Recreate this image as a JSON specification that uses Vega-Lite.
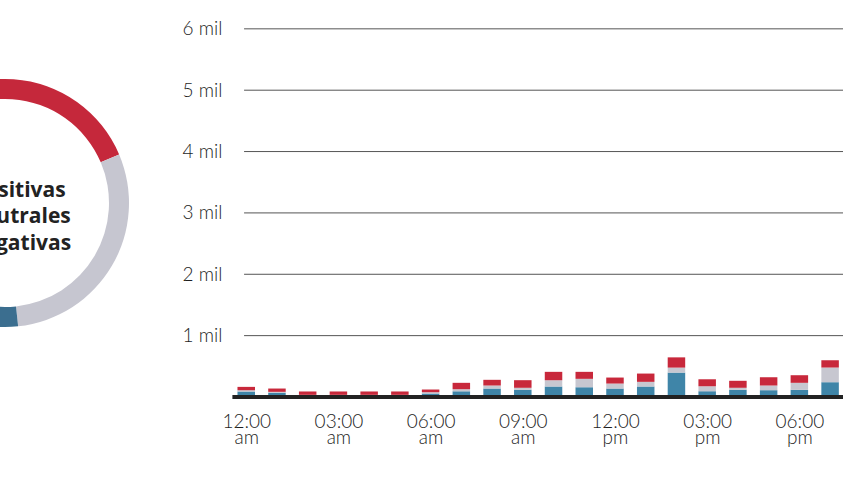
{
  "$schema": "https://vega.github.io/schema/vega-lite/v6.json",
  "width": 848,
  "height": 397,
  "autosize": {"type": "none"},
  "padding": {"left": 0, "top": 0, "right": 0, "bottom": 80},
  "background": "white",
  "config": {"view": {"stroke": null}},
  "datasets": {
    "horas": [
      {"hora": 0, "Positivas": 89, "Neutrales": 21, "Negativas": 55},
      {"hora": 1, "Positivas": 68, "Neutrales": 16, "Negativas": 54},
      {"hora": 2, "Positivas": 30, "Neutrales": 5, "Negativas": 55},
      {"hora": 3, "Positivas": 30, "Neutrales": 5, "Negativas": 55},
      {"hora": 4, "Positivas": 30, "Neutrales": 5, "Negativas": 55},
      {"hora": 5, "Positivas": 30, "Neutrales": 5, "Negativas": 55},
      {"hora": 6, "Positivas": 57, "Neutrales": 21, "Negativas": 44},
      {"hora": 7, "Positivas": 93, "Neutrales": 34, "Negativas": 104},
      {"hora": 8, "Positivas": 138, "Neutrales": 49, "Negativas": 93},
      {"hora": 9, "Positivas": 117, "Neutrales": 33, "Negativas": 124},
      {"hora": 10, "Positivas": 171, "Neutrales": 102, "Negativas": 137},
      {"hora": 11, "Positivas": 159, "Neutrales": 137, "Negativas": 114},
      {"hora": 12, "Positivas": 138, "Neutrales": 81, "Negativas": 98},
      {"hora": 13, "Positivas": 171, "Neutrales": 76, "Negativas": 135},
      {"hora": 14, "Positivas": 398, "Neutrales": 81, "Negativas": 167},
      {"hora": 15, "Positivas": 94, "Neutrales": 81, "Negativas": 114},
      {"hora": 16, "Positivas": 117, "Neutrales": 33, "Negativas": 114},
      {"hora": 17, "Positivas": 111, "Neutrales": 76, "Negativas": 135},
      {"hora": 18, "Positivas": 117, "Neutrales": 114, "Negativas": 124},
      {"hora": 19, "Positivas": 241, "Neutrales": 239, "Negativas": 119}
    ],
    "donut": [
      {"tipo": "Negativas", "pct": 35.0},
      {"tipo": "Neutrales", "pct": 29.7},
      {"tipo": "Positivas", "pct": 35.3}
    ],
    "rejilla": [
      {"v": 1000}, {"v": 2000}, {"v": 3000}, {"v": 4000}, {"v": 5000}, {"v": 6000}
    ]
  },
  "layer": [
    {
      "data": {"name": "horas"},
      "transform": [
        {"fold": ["Positivas", "Neutrales", "Negativas"], "as": ["tipo", "n"]}
      ],
      "mark": {"type": "bar", "width": 17.5},
      "encoding": {
        "x": {
          "field": "hora",
          "type": "quantitative",
          "scale": {"domain": [-7.85, 19.42], "nice": false, "zero": false},
          "axis": {
            "title": null,
            "values": [0, 3, 6, 9, 12, 15, 18],
            "labelExpr": "[datum.value % 12 == 0 ? '12:00' : '0' + (datum.value % 12) + ':00', datum.value < 12 ? 'am' : 'pm']",
            "domain": false,
            "ticks": false,
            "grid": false,
            "labelFlush": false,
            "labelFont": "Lato",
            "labelFontWeight": 300,
            "labelFontSize": 19,
            "labelColor": "#1e1e1e",
            "labelLineHeight": 16,
            "labelPadding": 15
          }
        },
        "y": {
          "field": "n",
          "type": "quantitative",
          "stack": "zero",
          "scale": {"domain": [0, 6470], "nice": false},
          "axis": {
            "title": null,
            "values": [1000, 2000, 3000, 4000, 5000, 6000],
            "labelExpr": "(datum.value / 1000) + ' mil'",
            "domain": false,
            "ticks": false,
            "grid": false,
            "offset": -232,
            "labelPadding": 10,
            "labelFont": "Lato",
            "labelFontWeight": 300,
            "labelFontSize": 19,
            "labelColor": "#1e1e1e"
          }
        },
        "color": {
          "field": "tipo",
          "type": "nominal",
          "scale": {
            "domain": ["Positivas", "Neutrales", "Negativas"],
            "range": ["#3F85A8", "#C7C7D0", "#C8283B"]
          },
          "legend": null
        },
        "order": {"field": "tipo", "sort": "descending"}
      }
    },
    {
      "data": {"name": "rejilla"},
      "mark": {"type": "rule", "color": "#555555", "strokeWidth": 1},
      "encoding": {
        "y": {"field": "v", "type": "quantitative"},
        "x": {"datum": -0.07, "type": "quantitative"},
        "x2": {"datum": 19.42}
      }
    },
    {
      "data": {"values": [{"base": 0}]},
      "mark": {"type": "rule", "color": "#222222", "strokeWidth": 4},
      "encoding": {
        "y": {"field": "base", "type": "quantitative"},
        "x": {"datum": -0.45, "type": "quantitative"},
        "x2": {"datum": 19.42}
      }
    },
    {
      "data": {"name": "donut"},
      "mark": {"type": "arc", "innerRadius": 104, "outerRadius": 124},
      "encoding": {
        "x": {"datum": -7.85, "type": "quantitative"},
        "y": {"datum": 3162, "type": "quantitative"},
        "theta": {
          "field": "pct",
          "type": "quantitative",
          "stack": true,
          "scale": {"domain": [0, 100], "range": [-1.0297, 5.2535]}
        },
        "color": {
          "field": "tipo",
          "type": "nominal",
          "scale": {
            "domain": ["Positivas", "Neutrales", "Negativas"],
            "range": ["#3B6E8F", "#C6C6D0", "#C5283B"]
          },
          "legend": null
        },
        "order": {"field": "tipo", "sort": "ascending"}
      }
    },
    {
      "data": {"values": [{"etiqueta": "Positivas\nNeutrales\nNegativas"}]},
      "mark": {
        "type": "text",
        "lineBreak": "\n",
        "lineHeight": 26.5,
        "font": "Open Sans",
        "fontWeight": "bold",
        "fontSize": 21,
        "color": "#222222",
        "align": "center",
        "baseline": "middle"
      },
      "encoding": {
        "x": {"datum": -7.4, "type": "quantitative"},
        "y": {"datum": 3362, "type": "quantitative"},
        "text": {"field": "etiqueta"}
      }
    }
  ],
  "resolve": {"scale": {"color": "independent"}}
}
